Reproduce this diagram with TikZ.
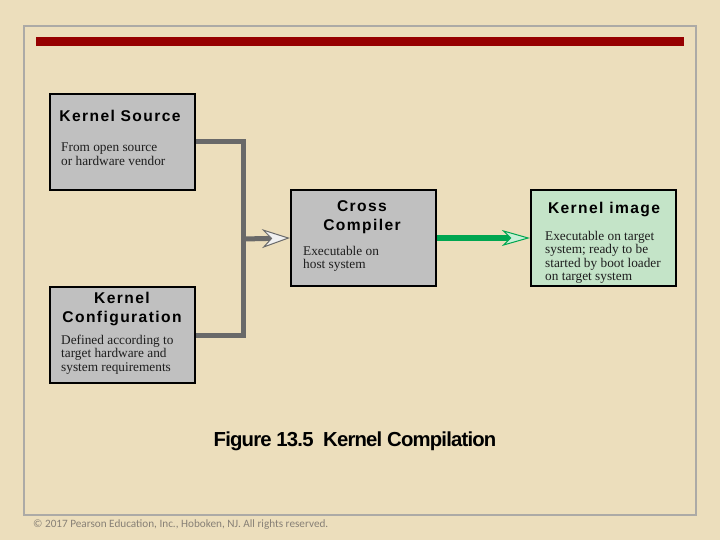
\documentclass[tikz,border=0pt]{standalone}
\usepackage{fontspec}
\setmainfont{Liberation Serif}
\newfontfamily\titlefont{Liberation Sans}[LetterSpace=9]
\newfontfamily\capfont{Liberation Sans}[LetterSpace=-4]
\newfontfamily\footfont{Carlito}
\usetikzlibrary{arrows.meta}
\definecolor{parch}{RGB}{236,222,188}
\definecolor{framegray}{RGB}{172,170,166}
\definecolor{barred}{RGB}{150,0,0}
\definecolor{boxgray}{RGB}{192,192,192}
\definecolor{boxgreen}{RGB}{196,228,200}
\definecolor{conngray}{RGB}{105,105,105}
\definecolor{arrgreen}{RGB}{0,166,80}
\definecolor{headgreen}{RGB}{200,240,215}
\definecolor{footgray}{RGB}{135,128,118}
\definecolor{bodyink}{RGB}{30,30,30}
\begin{document}
\begin{tikzpicture}[x=1pt,y=-1pt,
  box/.style={draw=black, line width=2.2pt, fill=boxgray, minimum width=145pt, minimum height=96pt, inner sep=0pt},
  gbox/.style={box, fill=boxgreen},
  ttl/.style={font=\titlefont\bfseries\fontsize{15.6}{19}\selectfont, align=center, inner sep=0pt},
  body/.style={font=\fontsize{13.3}{13.3}\selectfont, text=bodyink, align=left, anchor=north west, inner sep=0pt},
  conn/.style={draw=conngray, line width=5pt},
  grayhead/.style={-{Stealth[length=28pt, width=19pt, inset=9pt, fill=white!88!gray, color=conngray, line width=1pt]}},
  garrow/.style={draw=arrgreen, line width=6pt, -{Stealth[length=28pt, width=16pt, inset=8pt, fill=headgreen, color=arrgreen, line width=1pt]}}
]
\useasboundingbox (0,0) rectangle (720,540);
\fill[parch] (0,0) rectangle (720,540);
\draw[framegray, line width=2pt] (24,26) rectangle (696,515);
\fill[barred] (36,37) rectangle (684,46);

\node[box] (src) at (122.5,142) {};
\node[ttl] (srct) at (120,116) {Kernel Source};
\node[body] (srcb) at (61,143) {From open source\\or hardware vendor};

\node[box] (cfg) at (122.5,335) {};
\node[ttl] (cfgt) at (122,309.5) {Kernel\\Configuration};
\node[body] (cfgb) at (61,335) {Defined according to\\target hardware and\\system requirements};

\node[box] (cc) at (363.5,238) {};
\node[ttl] (cct) at (362,217.5) {Cross\\Compiler};
\node[body] (ccb) at (303,246) {Executable on\\host system};

\node[gbox] (img) at (603.5,238) {};
\node[ttl] (imgt) at (604,210) {Kernel image};
\node[body] (imgb) at (545,231) {Executable on target\\system; ready to be\\started by boot loader\\on target system};

\coordinate (j) at (243,239);
\draw[conn] (src.east) -| (j) |- (cfg.east);
\draw[conn, grayhead] (j) -- (cc.west);
\draw[garrow] (cc.east) -- (img.west);

\node[font=\capfont\bfseries\fontsize{20.3}{22}\selectfont, inner sep=0pt] (cap) at (355,441) {Figure 13.5\ \ Kernel Compilation};
\node[font=\footfont\fontsize{11.2}{12}\selectfont, text=footgray, anchor=west, inner sep=0pt] (foot) at (33,525) {© 2017 Pearson Education, Inc., Hoboken, NJ. All rights reserved.};
\end{tikzpicture}
\end{document}
